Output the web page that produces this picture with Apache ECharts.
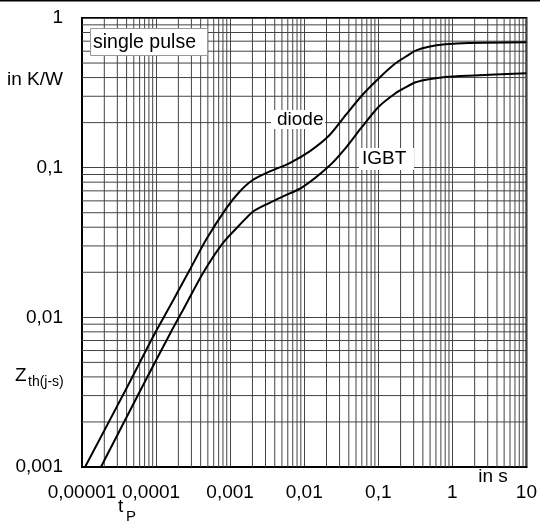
<!DOCTYPE html>
<html>
<head>
<meta charset="utf-8">
<title>Transient thermal impedance</title>
<script src="https://cdn.jsdelivr.net/npm/echarts@6/dist/echarts.min.js"></script>
<style>
  html, body { margin: 0; padding: 0; background: #fff; }
  #chart { width: 540px; height: 524px; }
</style>
</head>
<body>
<div id="chart"></div>
<script>
// Transient thermal impedance Zth(j-s) versus pulse duration tP, single pulse
const diodeT = [1.1e-5, 4.42e-5, 9.6e-5, 1.53e-4, 2.84e-4, 4.77e-4, 8.85e-4, 1.34e-3, 2.02e-3, 3.38e-3,
                6.28e-3, 0.0117, 0.0217, 0.0364, 0.0609, 0.102, 0.171, 0.234, 0.319, 0.481, 0.806, 1.66, 10];
const diodeZ = [0.001, 0.0037, 0.0078, 0.0118, 0.0207, 0.0332, 0.0535, 0.0691, 0.0827, 0.094,
                0.107, 0.128, 0.164, 0.225, 0.306, 0.396, 0.498, 0.551, 0.605, 0.643, 0.667, 0.681, 0.688];

const igbtT = [1.8e-5, 7.26e-5, 1.64e-4, 2.31e-4, 4.29e-4, 7.96e-4, 1.34e-3, 2.02e-3, 2.75e-3, 5.1e-3,
               9.5e-3, 0.0217, 0.0364, 0.0609, 0.102, 0.171, 0.234, 0.319, 0.481, 0.806, 1.66, 10];
const igbtZ = [0.001, 0.00381, 0.00823, 0.0112, 0.0197, 0.0313, 0.0414, 0.0508, 0.0554, 0.064,
               0.0742, 0.1026, 0.1358, 0.1884, 0.256, 0.314, 0.344, 0.372, 0.390, 0.404, 0.412, 0.427];

// tick labels (decimal comma)
const xTickLabels = ['0,00001', '0,0001', '0,001', '0,01', '0,1', '1', '10'];
const yTickLabels = ['0,001', '0,01', '0,1', '1'];

// decades that carry the 2..9 sub-divisions of the log grid
const xDecades = [1e-5, 1e-4, 1e-3, 1e-2, 1e-1, 1];
const yDecades = [1e-3, 1e-2, 1e-1];
const subSteps = [2, 3, 4, 5, 6, 7, 8, 9];

const X_MIN = 1e-5, X_MAX = 10, Y_MIN = 0.001, Y_MAX = 1;

const gridColor = '#444';
const font = 'Liberation Sans, Arial, sans-serif';

const minorX = xDecades.flatMap(d => subSteps.map(m => d * m));
const minorY = yDecades.flatMap(d => subSteps.map(m => d * m));

const zip = (a, b) => a.map((v, i) => [v, b[i]]);

// one straight grid line per data item, placed through the axis scales
function gridLine(vertical) {
  return function (params, api) {
    const p1 = vertical ? api.coord([api.value(0), Y_MIN]) : api.coord([X_MIN, api.value(1)]);
    const p2 = vertical ? api.coord([api.value(0), Y_MAX]) : api.coord([X_MAX, api.value(1)]);
    return {
      type: 'line',
      shape: { x1: p1[0], y1: p1[1], x2: p2[0], y2: p2[1] },
      style: { stroke: gridColor, lineWidth: 1 },
      silent: true
    };
  };
}

const chart = echarts.init(document.getElementById('chart'), null, { renderer: 'canvas' });

chart.setOption({
  animation: false,
  backgroundColor: '#fff',
  grid: {
    left: 82, right: 12, top: 18, bottom: 57,
    show: true, borderColor: '#000', borderWidth: 2, backgroundColor: 'transparent'
  },
  xAxis: {
    type: 'log', logBase: 10, min: X_MIN, max: X_MAX,
    axisLine: { show: true, lineStyle: { color: '#000', width: 2 } },
    axisTick: { show: false },
    splitLine: { show: true, lineStyle: { color: gridColor, width: 1 } },
    axisLabel: {
      margin: 16, color: '#000', fontFamily: font, fontSize: 19,
      showMinLabel: true, showMaxLabel: true,
      formatter: v => {
        const i = Math.round(Math.log10(v)) + 5;
        return i === 1 ? '{s|' + xTickLabels[i] + '}' : xTickLabels[i];
      },
      rich: { s: { fontFamily: font, fontSize: 19, color: '#000', padding: [0, 10, 0, 0] } }
    }
  },
  yAxis: {
    type: 'log', logBase: 10, min: Y_MIN, max: Y_MAX,
    axisLine: { show: true, lineStyle: { color: '#000', width: 2 } },
    axisTick: { show: false },
    splitLine: { show: true, lineStyle: { color: gridColor, width: 1 } },
    axisLabel: {
      margin: 19, color: '#000', fontFamily: font, fontSize: 19,
      showMinLabel: true, showMaxLabel: true,
      formatter: v => yTickLabels[Math.round(Math.log10(v)) + 3]
    }
  },
  series: [
    {
      // vertical sub-division lines of the log-log paper
      type: 'custom', z: 1, silent: true, clip: true,
      data: minorX.map(v => [v, Y_MAX]),
      renderItem: gridLine(true)
    },
    {
      // horizontal sub-division lines
      type: 'custom', z: 1, silent: true, clip: true,
      data: minorY.map(v => [X_MAX, v]),
      renderItem: gridLine(false)
    },
    {
      name: 'diode', type: 'line', data: zip(diodeT, diodeZ), z: 5,
      showSymbol: false, smooth: 0.25,
      lineStyle: { color: '#000', width: 2 }
    },
    {
      name: 'IGBT', type: 'line', data: zip(igbtT, igbtZ), z: 5,
      showSymbol: false, smooth: 0.25,
      lineStyle: { color: '#000', width: 2 }
    }
  ],
  graphic: [
    { type: 'rect', z: 100, shape: { x: 0, y: 0, width: 540, height: 1.5 }, style: { fill: '#000' } },
    // single pulse box
    { type: 'rect', z: 100, shape: { x: 90.5, y: 28.5, width: 117, height: 27 },
      style: { fill: '#fff', stroke: '#999', lineWidth: 1 } },
    { type: 'text', z: 101, x: 93, y: 43,
      style: { text: 'single pulse', font: '19.5px ' + font, fill: '#000', verticalAlign: 'middle', align: 'left' } },
    // curve labels
    { type: 'rect', z: 100, shape: { x: 271, y: 110, width: 54, height: 19 }, style: { fill: '#fff' } },
    { type: 'text', z: 101, x: 277, y: 120,
      style: { text: 'diode', font: '19px ' + font, fill: '#000', verticalAlign: 'middle', align: 'left' } },
    { type: 'rect', z: 100, shape: { x: 359, y: 148, width: 55, height: 22 }, style: { fill: '#fff' } },
    { type: 'text', z: 101, x: 362, y: 159,
      style: { text: 'IGBT', font: '19px ' + font, fill: '#000', verticalAlign: 'middle', align: 'left' } },
    // axis titles
    { type: 'text', z: 101, x: 63, y: 80,
      style: { text: 'in K/W', font: '19px ' + font, fill: '#000', verticalAlign: 'middle', align: 'right' } },
    { type: 'text', z: 101, x: 15, y: 376,
      style: { text: 'Z', font: '19px ' + font, fill: '#000', verticalAlign: 'middle', align: 'left' } },
    { type: 'text', z: 101, x: 28, y: 382,
      style: { text: 'th(j-s)', font: '14px ' + font, fill: '#000', verticalAlign: 'middle', align: 'left' } },
    { type: 'text', z: 101, x: 493, y: 477,
      style: { text: 'in s', font: '19px ' + font, fill: '#000', verticalAlign: 'middle', align: 'center' } },
    { type: 'text', z: 101, x: 118, y: 507,
      style: { text: 't', font: '19px ' + font, fill: '#000', verticalAlign: 'middle', align: 'left' } },
    { type: 'text', z: 101, x: 126, y: 517,
      style: { text: 'P', font: '15px ' + font, fill: '#000', verticalAlign: 'middle', align: 'left' } }
  ]
});
</script>
</body>
</html>
